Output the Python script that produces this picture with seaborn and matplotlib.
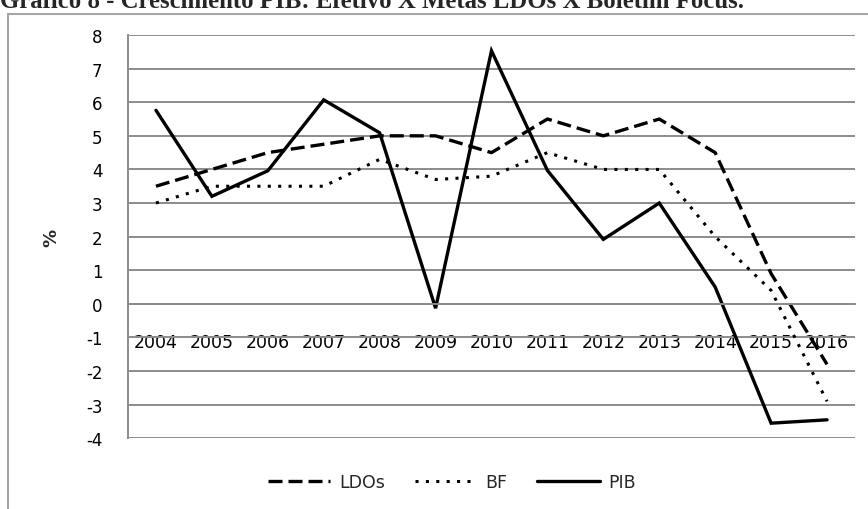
import matplotlib
matplotlib.use("Agg")
import matplotlib.pyplot as plt
import seaborn as sns
import pandas as pd
from matplotlib.patches import Rectangle

# Crescimento do PIB (%): metas das LDOs, Boletim Focus e efetivo
anos = ["2004", "2005", "2006", "2007", "2008", "2009", "2010",
        "2011", "2012", "2013", "2014", "2015", "2016"]
ldos = [3.5, 4.0, 4.5, 4.75, 5.0, 5.0, 4.5, 5.5, 5.0, 5.5, 4.5, 0.9, -1.8]
bf = [3.0, 3.5, 3.5, 3.5, 4.3, 3.7, 3.8, 4.5, 4.0, 4.0, 2.0, 0.4, -2.9]
pib = [5.76, 3.2, 3.96, 6.07, 5.09, -0.13, 7.53, 3.97, 1.92, 3.0, 0.5, -3.55, -3.45]
y_ticks = list(range(-4, 9))

df = pd.DataFrame({"ano": anos, "LDOs": ldos, "BF": bf, "PIB": pib})

sns.set_theme(style="white")
plt.rcParams["font.family"] = ["DejaVu Sans"]

GRID = "#8c8c8c"
fig = plt.figure(figsize=(8.68, 5.10), dpi=100)
ax = fig.add_axes([128 / 868, 1 - 439.3 / 510, (855 - 128) / 868, (439.3 - 36) / 510])

# Moldura externa da área do gráfico
fig.patches.append(Rectangle((8 / 868, -0.05), 1.0, 1 - 15 / 510 + 0.05,
                             transform=fig.transFigure, fill=False,
                             edgecolor="#a6a6a6", linewidth=1.5))

sns.lineplot(data=df, x="ano", y="LDOs", ax=ax, color="black", linewidth=2.4,
             linestyle=(0, (4.2, 1.8)), label="LDOs", sort=False)
sns.lineplot(data=df, x="ano", y="BF", ax=ax, color="black", linewidth=2.2,
             linestyle=(0, (1.0, 2.4)), label="BF", sort=False)
sns.lineplot(data=df, x="ano", y="PIB", ax=ax, color="black", linewidth=2.4,
             label="PIB", sort=False)
for ln in ax.lines:
    ln.set_solid_joinstyle("miter")

ax.set_xlim(-0.5, len(anos) - 0.5)
ax.set_ylim(-4, 8)
ax.set_yticks(y_ticks)
ax.set_yticklabels([str(v) for v in y_ticks], fontsize=12)
ax.yaxis.grid(True, color=GRID, linewidth=1.4)
ax.xaxis.grid(False)
ax.set_axisbelow(True)

# Eixo horizontal cruzando em zero, marcas entre as categorias
ax.spines["bottom"].set_position(("data", 0))
for s in ["top", "right"]:
    ax.spines[s].set_visible(False)
for s in ["left", "bottom"]:
    ax.spines[s].set_color(GRID)
    ax.spines[s].set_linewidth(1.4)

ax.set_xticks(range(len(anos)))
ax.set_xticklabels(anos, fontsize=12.5)
ax.set_xticks([i - 0.5 for i in range(len(anos) + 1)], minor=True)
ax.tick_params(axis="x", which="major", length=0, pad=21, colors="black")
ax.tick_params(axis="x", which="minor", length=5, width=1.4, color=GRID,
               direction="out")
ax.tick_params(axis="y", length=6.5, width=1.4, color=GRID, direction="out",
               pad=12, labelcolor="black")

ax.set_xlabel("")
ax.set_ylabel("%", fontsize=13, fontweight="bold", labelpad=18)

leg = ax.legend(loc="center", bbox_to_anchor=(0.5 + 18 / 868, 1 - 483 / 510),
                bbox_transform=fig.transFigure, ncol=3, frameon=False,
                fontsize=12.5, handlelength=3.6, handletextpad=0.5,
                columnspacing=1.7)

fig.text(0.0, 1 - 7.5 / 510,
         "Gráfico 8 - Crescimento PIB: Efetivo X Metas LDOs X Boletim Focus.",
         family=["Liberation Serif"], fontweight="bold", fontsize=17.8,
         ha="left", va="baseline")

fig.savefig("out.png", dpi=100)
